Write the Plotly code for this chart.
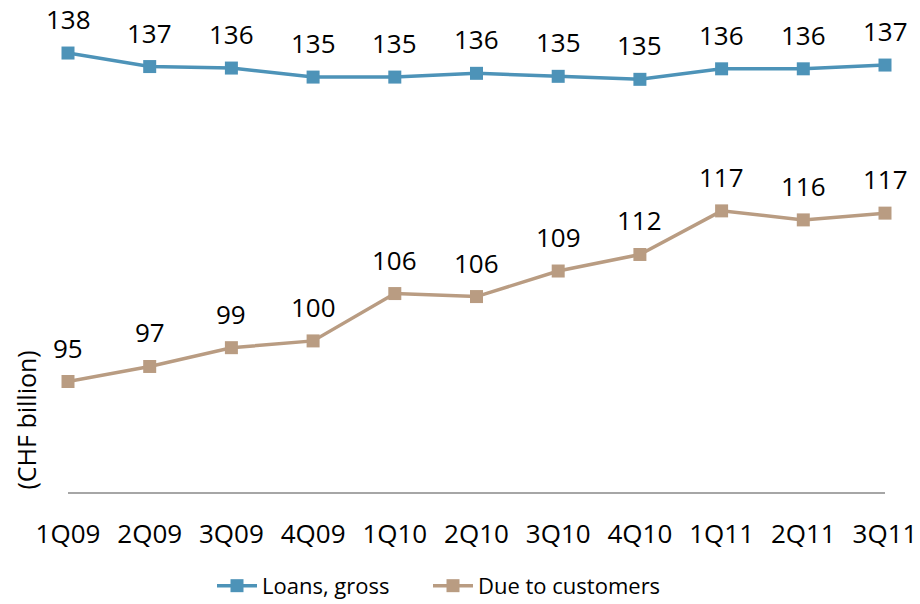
import plotly.graph_objects as go

quarters = ["1Q09", "2Q09", "3Q09", "4Q09", "1Q10", "2Q10", "3Q10", "4Q10", "1Q11", "2Q11", "3Q11"]
loans_gross = [138.4, 136.6, 136.4, 135.2, 135.2, 135.7, 135.3, 134.9, 136.3, 136.3, 136.8]
due_to_customers = [94.7, 96.7, 99.2, 100.1, 106.4, 106.0, 109.4, 111.6, 117.4, 116.2, 117.1]

BLUE = "#4d93b8"
TAN = "#b99c82"
FONT = "Open Sans"
x = list(range(len(quarters)))

fig = go.Figure()
for name, vals, color, leg in [("Loans, gross", loans_gross, BLUE, "legend"),
                               ("Due to customers", due_to_customers, TAN, "legend2")]:
    fig.add_trace(go.Scatter(
        x=x, y=vals, name=name, mode="lines+markers", legend=leg,
        line=dict(color=color, width=3.5),
        marker=dict(symbol="square", size=13, color=color),
        cliponaxis=False, hoverinfo="skip",
    ))

# value labels above each point
annotations = []
for vals in (loans_gross, due_to_customers):
    for xi, v in zip(x, vals):
        annotations.append(dict(
            x=xi, y=v, xref="x", yref="y", text=f"{round(v):d}",
            showarrow=False, yanchor="bottom", yshift=14,
            font=dict(family=FONT, size=26, color="#000000"),
        ))

annotations.append(dict(
    x=0, xref="paper", xanchor="center", xshift=-43,
    y=0, yref="paper", yanchor="bottom",
    text="(CHF billion)", textangle=-90, showarrow=False,
    font=dict(family=FONT, size=25, color="#000000"),
))

legend_style = dict(orientation="h", xanchor="left", xref="container",
                    y=0.03, yanchor="middle", yref="container",
                    font=dict(family=FONT, size=22), itemwidth=40,
                    bgcolor="rgba(0,0,0,0)")

fig.update_layout(
    width=920, height=604,
    margin=dict(l=68, r=35, t=41, b=112, autoexpand=False),
    paper_bgcolor="white", plot_bgcolor="white",
    font=dict(family=FONT, size=24, color="#000000"),
    showlegend=True,
    legend=dict(x=212 / 920, **legend_style),
    legend2=dict(x=428 / 920, **legend_style),
    annotations=annotations,
    xaxis=dict(range=[0, 10], tickvals=x, ticktext=quarters, showgrid=False,
               zeroline=False, showline=True, linecolor="#a6a6a6", linewidth=2,
               ticks="", ticklabelstandoff=18,
               tickfont=dict(family=FONT, size=26, color="#000000"), fixedrange=True),
    yaxis=dict(range=[80, 140], showgrid=False, zeroline=False, showline=False,
               showticklabels=False, ticks="", fixedrange=True),
)

fig.write_html("out.html")
